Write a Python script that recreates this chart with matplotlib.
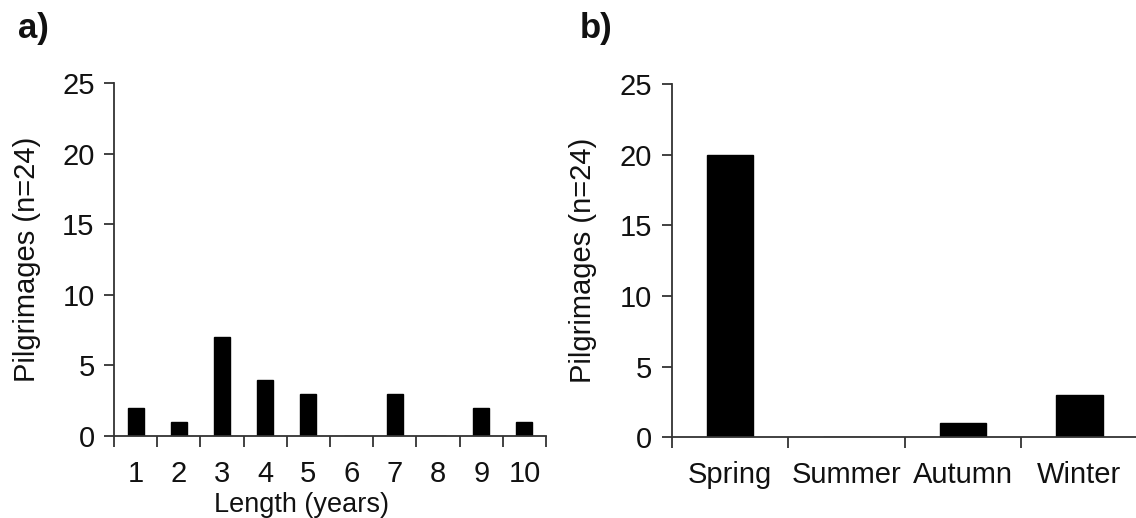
import matplotlib
matplotlib.use('Agg')
import matplotlib.pyplot as plt
import numpy as np

plt.rcParams['font.family'] = ['Liberation Sans', 'DejaVu Sans']

# Panel a: pilgrimage length
years = [1, 2, 3, 4, 5, 6, 7, 8, 9, 10]
count_by_length = [2, 1, 7, 4, 3, 0, 3, 0, 2, 1]

# Panel b: season
seasons = ['Spring', 'Summer', 'Autumn', 'Winter']
count_by_season = [20, 0, 1, 3]

yticks = [0, 5, 10, 15, 20, 25]
ylabel = 'Pilgrimages (n=24)'

text_col = '#111111'
axis_col = '#333333'
fs = 21

fig = plt.figure(figsize=(11.36, 5.18), dpi=100)
W, H = 1136, 518

def style(ax):
    for s in ['top', 'right']:
        ax.spines[s].set_visible(False)
    for s in ['left', 'bottom']:
        ax.spines[s].set_color(axis_col)
        ax.spines[s].set_linewidth(1.3)
    ax.set_ylim(0, 25)
    ax.set_yticks(yticks)
    ax.tick_params(axis='y', direction='out', length=7, width=1.3, color=axis_col,
                   labelsize=fs, labelcolor=text_col, pad=7)
    ax.tick_params(axis='x', which='major', direction='out', length=8, width=1.3,
                   color=axis_col, labelbottom=False)
    ax.tick_params(axis='x', which='minor', length=0, labelsize=fs,
                   labelcolor=text_col, pad=17)

# ---- panel a ----
ax1 = fig.add_axes([114 / W, 1 - 436 / H, (546 - 114) / W, (436 - 83) / H])
x1 = np.arange(len(years))
ax1.bar(x1, count_by_length, width=0.37, color='black', edgecolor='black')
ax1.set_xlim(-0.5, len(years) - 0.5)
ax1.set_xticks(np.arange(len(years) + 1) - 0.5)
ax1.set_xticks(x1, minor=True)
ax1.set_xticklabels([str(y) for y in years], minor=True)
style(ax1)
ax1.set_ylabel(ylabel, fontsize=fs, color=text_col)
ax1.yaxis.set_label_coords(-0.17, 0.5)
ax1.set_xlabel('Length (years)', fontsize=19.5, color=text_col)
ax1.xaxis.set_label_coords(0.435, -0.16)

# ---- panel b ----
ax2 = fig.add_axes([671.7 / W, 1 - 437.3 / H, (1137.7 - 671.7) / W, (437.3 - 84) / H])
x2 = np.arange(len(seasons))
ax2.bar(x2, count_by_season, width=0.40, color='black', edgecolor='black')
ax2.set_xlim(-0.5, len(seasons) - 0.5)
ax2.set_xticks(np.arange(len(seasons) + 1) - 0.5)
ax2.set_xticks(x2, minor=True)
ax2.set_xticklabels(seasons, minor=True)
style(ax2)
ax2.set_ylabel(ylabel, fontsize=fs, color=text_col)
ax2.yaxis.set_label_coords(-0.16, 0.5)

fig.text(18 / W, 1 - 38 / H, 'a)', fontsize=25, fontweight='bold', color=text_col)
fig.text(580 / W, 1 - 38 / H, 'b)', fontsize=25, fontweight='bold', color=text_col)

fig.savefig('out.png', dpi=100)
